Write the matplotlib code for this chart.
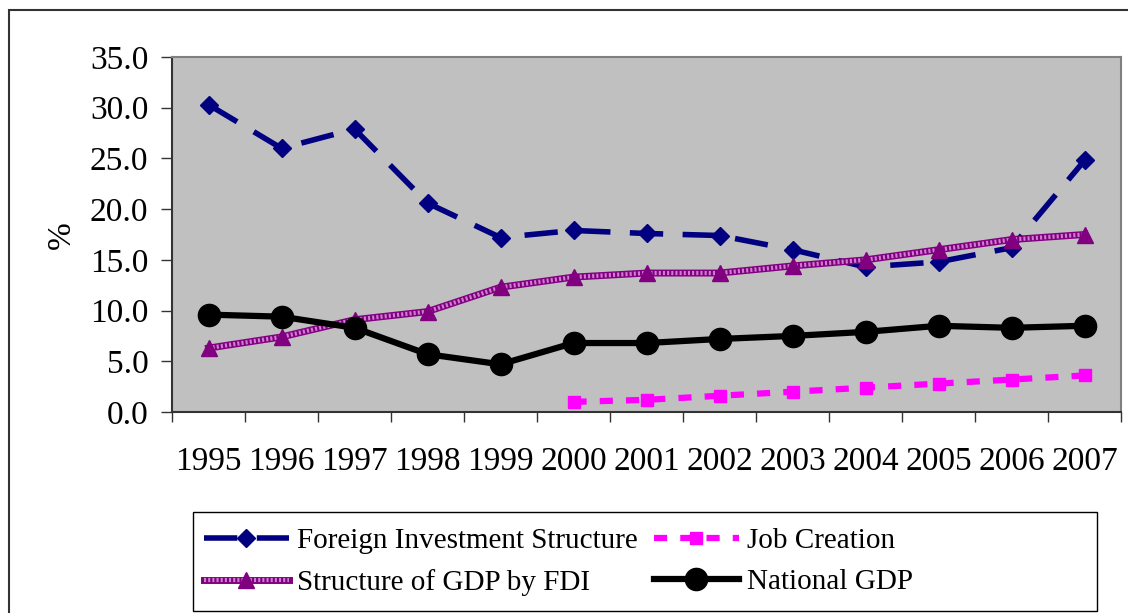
"""
FDI indicators 1995-2007, Excel-style line chart
"""

import matplotlib

matplotlib.use("Agg")
import matplotlib.pyplot as plt
from matplotlib import ticker
from matplotlib.patches import Rectangle

years = ["1995", "1996", "1997", "1998", "1999", "2000", "2001",
         "2002", "2003", "2004", "2005", "2006", "2007"]

foreign_inv = [30.3, 26.0, 27.9, 20.6, 17.2, 17.9, 17.6,
               17.4, 16.0, 14.3, 14.8, 16.2, 24.8]
job_creation = [None, None, None, None, None, 1.0, 1.2,
                1.6, 2.0, 2.4, 2.8, 3.2, 3.6]
gdp_by_fdi = [6.3, 7.4, 9.1, 9.9, 12.3, 13.3, 13.7,
              13.7, 14.4, 15.0, 16.0, 17.0, 17.5]
national_gdp = [9.6, 9.4, 8.3, 5.7, 4.7, 6.8, 6.8,
                7.2, 7.5, 7.9, 8.5, 8.3, 8.5]

plt.rcParams["font.family"] = ["Liberation Serif", "DejaVu Serif"]

W, H = 1128, 613
fig = plt.figure(figsize=(W / 100, H / 100), dpi=100)
ax = fig.add_axes([172 / W, 1 - 412 / H, (1121 - 172) / W, (412 - 57) / H])
ax.set_facecolor("#C0C0C0")

x = list(range(len(years)))
jc = [float("nan") if v is None else v for v in job_creation]

# the lines
l_fis, = ax.plot(x, foreign_inv, color="#000080", lw=4, linestyle=(0, (6, 3.5)),
                 marker="D", ms=9, markeredgecolor="#000080",
                 label="Foreign Investment Structure")
l_jc, = ax.plot(x, jc, color="#FF00FF", lw=4.5, linestyle=(0, (2.1, 2.1)),
                marker="s", ms=8.5, markeredgecolor="#FF00FF",
                label="Job Creation")
# textured purple line: base + light dotted overlay
l_gdp, = ax.plot(x, gdp_by_fdi, color="#800080", lw=5, zorder=3,
                 label="Structure of GDP by FDI")
l_tex, = ax.plot(x, gdp_by_fdi, color="#D27BD2", lw=3, linestyle=(0, (0.5, 0.5)), zorder=3)
l_tri, = ax.plot(x, gdp_by_fdi, linestyle="none", marker="^", ms=12, color="#800080", zorder=4)
l_nat, = ax.plot(x, national_gdp, color="black", lw=4.5, marker="o", ms=16,
                 zorder=5, label="National GDP")

# axes
ax.set_xlim(-0.5, len(years) - 0.5)
ax.set_ylim(0, 35)
ax.yaxis.set_major_locator(ticker.MultipleLocator(5))
ax.yaxis.set_major_formatter(ticker.FormatStrFormatter("%.1f"))
ax.xaxis.set_major_locator(ticker.FixedLocator([i - 0.5 for i in range(len(years) + 1)]))
ax.xaxis.set_major_formatter(ticker.NullFormatter())
ax.xaxis.set_minor_locator(ticker.FixedLocator(x))
ax.xaxis.set_minor_formatter(ticker.FixedFormatter(years))
ax.tick_params(axis="x", which="major", direction="out", length=7.5, width=1, color="#333333")
ax.tick_params(axis="x", which="minor", length=0, pad=25, labelsize=24)
ax.tick_params(axis="y", direction="out", length=8, width=1, pad=9, labelsize=24, color="#333333")

for side in ["top", "right"]:
    ax.spines[side].set_color("#808080")
    ax.spines[side].set_linewidth(1.5)
for side in ["left", "bottom"]:
    ax.spines[side].set_color("#333333")
    ax.spines[side].set_linewidth(1.5)

fig.text(62 / W, 1 - 235 / H, "%", rotation=90, fontsize=24, ha="center", va="center")

# legend (frame drawn separately)
leg = fig.legend([l_fis, (l_gdp, l_tex, l_tri), l_jc, l_nat],
                 ["Foreign Investment Structure", "Structure of GDP by FDI",
                  "Job Creation", "National GDP"],
                 ncol=2, loc="upper left", bbox_to_anchor=(204 / W, 1 - 528 / H),
                 fontsize=21, frameon=False,
                 handlelength=2.9, handletextpad=0.3, labelspacing=0.5,
                 borderaxespad=0, borderpad=0, columnspacing=0.55)

fig.patches.append(Rectangle((193 / W, 1 - 611 / H), (1097 - 193) / W, (611 - 512) / H,
                             transform=fig.transFigure, fill=False,
                             edgecolor="black", lw=1))

# outer chart border (cut off at right/bottom)
fig.patches.append(Rectangle((9 / W, -0.1), 1.2, 1.1 - 10 / H, transform=fig.transFigure,
                             fill=False, edgecolor="#333333", lw=1.5))

fig.savefig("out.png", dpi=100)
